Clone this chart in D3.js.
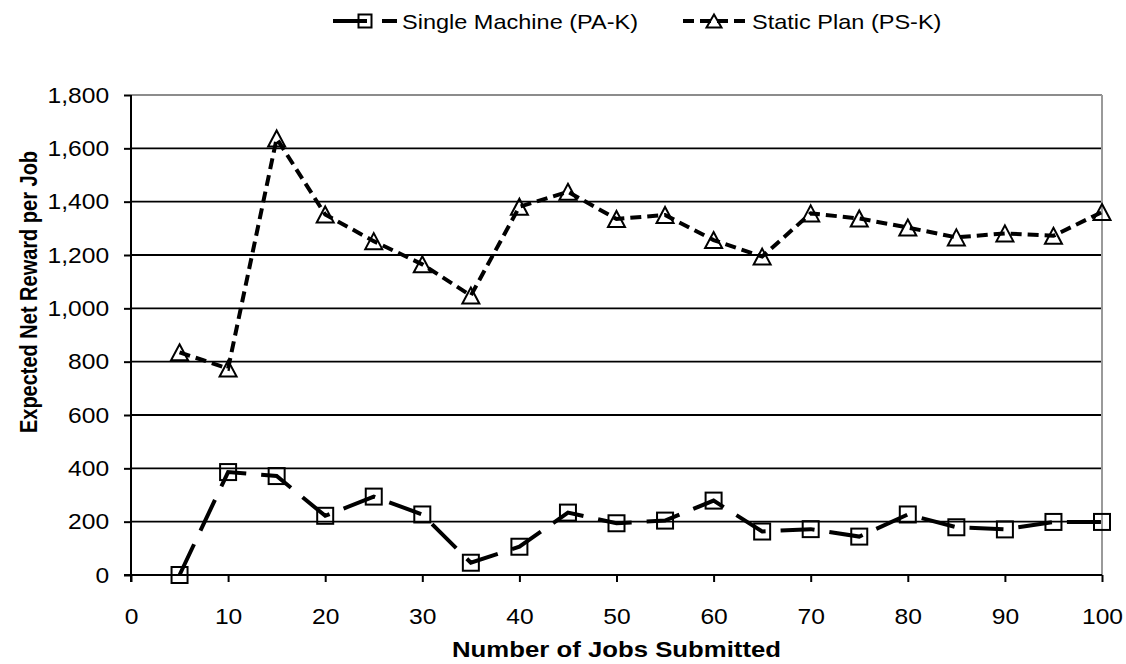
<!DOCTYPE html>
<html>
<head>
<meta charset="utf-8">
<script src="https://cdn.jsdelivr.net/npm/d3@7"></script>
<style>
  html, body { margin: 0; padding: 0; background: #fff; }
  svg { display: block; font-family: "Liberation Sans", Arial, sans-serif; }
</style>
</head>
<body>
<svg id="chart" width="1126" height="664"></svg>
<script>
// ---- data ----
const jobs = [5, 10, 15, 20, 25, 30, 35, 40, 45, 50, 55, 60, 65, 70, 75, 80, 85, 90, 95, 100];
const singleMachine = [0, 386, 371, 222, 294, 227, 46, 106, 234, 194, 204, 279, 163, 172, 144, 227, 179, 171, 199, 199];
const staticPlan = [835, 774, 1637, 1352, 1252, 1165, 1048, 1381, 1437, 1335, 1350, 1256, 1194, 1356, 1337, 1303, 1266, 1281, 1272, 1361];
const xTicks = [0, 10, 20, 30, 40, 50, 60, 70, 80, 90, 100];
const yTicks = [0, 200, 400, 600, 800, 1000, 1200, 1400, 1600, 1800];
const seriesNames = ["Single Machine (PA-K)", "Static Plan (PS-K)"];
const xTitle = "Number of Jobs Submitted";
const yTitle = "Expected Net Reward per Job";

(function () {
const SX = 1.12; // horizontal text stretch
const svg = d3.select("#chart");
const pL = 131, pR = 1102, pT = 95, pB = 575;
const x = d3.scaleLinear().domain([0, 100]).range([pL, pR]);
const y = d3.scaleLinear().domain([0, 1800]).range([pB, pT]);

// gridlines
svg.append("g").selectAll("line").data(yTicks.filter(v => v > 0)).join("line")
  .attr("x1", x(0)).attr("x2", x(100))
  .attr("y1", d => y(d)).attr("y2", d => y(d))
  .attr("stroke", d => d === 1800 ? "#8c8c8c" : "#000")
  .attr("stroke-width", 1.8);

// right border
svg.append("line").attr("x1", x(100)).attr("x2", x(100)).attr("y1", y(1800)).attr("y2", y(0))
  .attr("stroke", "#9a9a9a").attr("stroke-width", 2);

// axes
const yAxis = d3.axisLeft(y).tickValues(yTicks).tickFormat(d3.format(",")).tickSizeInner(7).tickSizeOuter(0).tickPadding(12.5);
const gy = svg.append("g").attr("transform", `translate(${pL},0)`).call(yAxis);
const xAxis = d3.axisBottom(x).tickValues(xTicks).tickSizeInner(7).tickSizeOuter(0).tickPadding(26);
const gx = svg.append("g").attr("transform", `translate(0,${pB})`).call(xAxis);
[gx, gy].forEach(g => {
  g.select(".domain").remove();
  g.selectAll(".tick line").attr("stroke", "#000").attr("stroke-width", 2);
  g.selectAll(".tick text").attr("font-family", "Liberation Sans, Arial, sans-serif")
    .attr("font-size", 22).attr("fill", "#000").attr("transform", `scale(${SX},1)`);
});
// axis lines
svg.append("line").attr("x1", x(0)).attr("x2", x(0)).attr("y1", y(1800)).attr("y2", y(0) + 7)
  .attr("stroke", "#000").attr("stroke-width", 2);
svg.append("line").attr("x1", x(0) - 7).attr("x2", x(100)).attr("y1", y(0)).attr("y2", y(0))
  .attr("stroke", "#000").attr("stroke-width", 2);

// titles
svg.append("text").attr("transform", `translate(${(pL + pR) / 2},657) scale(${SX},1)`)
  .attr("text-anchor", "middle").attr("font-weight", "bold").attr("font-size", 23).text(xTitle);
svg.append("text").attr("transform", `translate(36.5,292) scale(1.17,1) rotate(-90)`)
  .attr("text-anchor", "middle").attr("font-weight", "bold").attr("font-size", 20).text(yTitle);

// lines
const line = d3.line().x((d, i) => x(jobs[i])).y(d => y(d));
svg.append("path").datum(singleMachine).attr("d", line)
  .attr("fill", "none").attr("stroke", "#000").attr("stroke-width", 4)
  .attr("stroke-dasharray", "34,15");
svg.append("path").datum(staticPlan).attr("d", line)
  .attr("fill", "none").attr("stroke", "#000").attr("stroke-width", 4)
  .attr("stroke-dasharray", "11,6");

// markers
function triPath(cx, cy, w, h) {
  return `M${cx},${cy - h / 2}L${cx + w / 2},${cy + h / 2}L${cx - w / 2},${cy + h / 2}Z`;
}
svg.append("g").selectAll("rect").data(singleMachine).join("rect")
  .attr("x", (d, i) => x(jobs[i]) - 8).attr("y", d => y(d) - 8)
  .attr("width", 16).attr("height", 16)
  .attr("fill", "none").attr("stroke", "#000").attr("stroke-width", 2);
svg.append("g").selectAll("path").data(staticPlan).join("path")
  .attr("d", (d, i) => triPath(x(jobs[i]), y(d), 17, 16))
  .attr("fill", "none").attr("stroke", "#000").attr("stroke-width", 2);

// legend
const ly = 21;
const lg = svg.append("g");
lg.append("line").attr("x1", 333).attr("x2", 397).attr("y1", ly).attr("y2", ly)
  .attr("stroke", "#000").attr("stroke-width", 4).attr("stroke-dasharray", "34,15");
lg.append("rect").attr("x", 365 - 6.5).attr("y", ly - 6.5).attr("width", 13).attr("height", 13)
  .attr("fill", "none").attr("stroke", "#000").attr("stroke-width", 2);
lg.append("text").attr("transform", `translate(402,${ly + 8}) scale(${SX},1)`)
  .attr("font-size", 21).text(seriesNames[0]);
lg.append("line").attr("x1", 683).attr("x2", 745).attr("y1", ly).attr("y2", ly)
  .attr("stroke", "#000").attr("stroke-width", 4).attr("stroke-dasharray", "11,6");
lg.append("path").attr("d", triPath(714, ly, 15, 13))
  .attr("fill", "none").attr("stroke", "#000").attr("stroke-width", 2);
lg.append("text").attr("transform", `translate(752,${ly + 8}) scale(${SX},1)`)
  .attr("font-size", 21).text(seriesNames[1]);
})();
</script>
</body>
</html>
